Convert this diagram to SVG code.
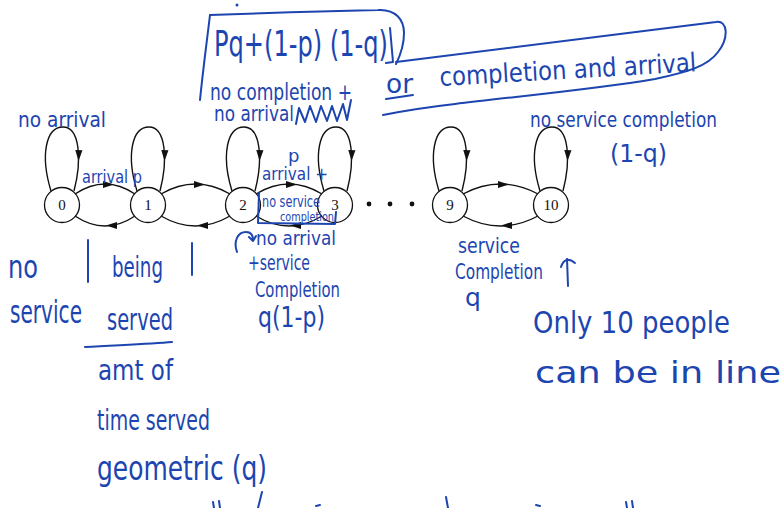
<svg xmlns="http://www.w3.org/2000/svg" width="783" height="508" viewBox="0 0 783 508">
<defs>
<style>
.nd{fill:#fff;stroke:#111;stroke-width:1.3}
.nl{font-family:"Liberation Serif",serif;font-size:15px;fill:#111;text-anchor:middle}
.ed{fill:none;stroke:#111;stroke-width:1.4}
.hw{font-family:"DejaVu Sans","Liberation Sans",sans-serif;fill:#1c45b0}
.ink{fill:none;stroke:#1c45b0;stroke-width:2;stroke-linecap:round;stroke-linejoin:round}
</style>
<path id="ah" d="M0,0 L-11,-3.6 L-11,3.6 Z" fill="#111"/>
</defs>
<rect width="783" height="508" fill="#fff"/>

<!-- transitions of the birth-death chain -->
<g id="connectors">
  <!-- self loops -->
  <path class="ed" d="M51,191 C40,155 46,127 63,127 C80,127 82,160 74,191"/>
  <use href="#ah" transform="translate(78.5,161) rotate(92)"/>
  <path class="ed" d="M137,191 C126,155 132,127 149,127 C166,127 168,160 160,191"/>
  <use href="#ah" transform="translate(164.5,161) rotate(92)"/>
  <path class="ed" d="M232,191 C221,155 227,127 244,127 C261,127 263,160 255,191"/>
  <use href="#ah" transform="translate(259.5,161) rotate(92)"/>
  <path class="ed" d="M324,191 C313,155 319,127 336,127 C353,127 355,160 347,191"/>
  <use href="#ah" transform="translate(351.5,161) rotate(92)"/>
  <path class="ed" d="M439,191 C428,155 434,127 451,127 C468,127 470,160 462,191"/>
  <use href="#ah" transform="translate(466.5,161) rotate(92)"/>
  <path class="ed" d="M540,191 C529,155 535,127 552,127 C569,127 571,160 563,191"/>
  <use href="#ah" transform="translate(567.5,161) rotate(92)"/>
  <!-- 0 <-> 1 -->
  <path class="ed" d="M75,194 Q105,174 135,194"/>
  <use href="#ah" transform="translate(114,184.5)"/>
  <path class="ed" d="M135,216 Q105,236 75,216"/>
  <use href="#ah" transform="translate(106,225.5) rotate(180)"/>
  <!-- 1 <-> 2 -->
  <path class="ed" d="M161,194 Q195.5,174 230,194"/>
  <use href="#ah" transform="translate(205,184.5)"/>
  <path class="ed" d="M230,216 Q195.5,236 161,216"/>
  <use href="#ah" transform="translate(197,225.5) rotate(180)"/>
  <!-- 2 <-> 3 -->
  <path class="ed" d="M256,194 Q289,174 322,194"/>
  <use href="#ah" transform="translate(297,184.5)"/>
  <path class="ed" d="M322,216 Q289,236 256,216"/>
  <use href="#ah" transform="translate(290,225.5) rotate(180)"/>
  <!-- 9 <-> 10 -->
  <path class="ed" d="M463,194 Q500.5,174 538,194"/>
  <use href="#ah" transform="translate(509,184.5)"/>
  <path class="ed" d="M538,216 Q500.5,236 463,216"/>
  <use href="#ah" transform="translate(501,225.5) rotate(180)"/>
</g>

<!-- states -->
<g id="n0"><circle class="nd" cx="62" cy="205" r="17.5"/><text class="nl" x="62" y="210">0</text></g>
<g id="n1"><circle class="nd" cx="148" cy="205" r="17.5"/><text class="nl" x="148" y="210">1</text></g>
<g id="n2"><circle class="nd" cx="243" cy="205" r="17.5"/><text class="nl" x="243" y="210">2</text></g>
<g id="n3"><circle class="nd" cx="335" cy="205" r="17.5"/><text class="nl" x="335" y="210">3</text></g>
<g id="ellipsis" fill="#111">
  <circle cx="369" cy="204" r="2.4"/><circle cx="390" cy="204" r="2.4"/><circle cx="412" cy="204" r="2.4"/>
</g>
<g id="n9"><circle class="nd" cx="450" cy="205" r="17.5"/><text class="nl" x="450" y="210">9</text></g>
<g id="n10"><circle class="nd" cx="551" cy="205" r="17.5"/><text class="nl" x="551" y="210">10</text></g>

<!-- handwritten notes -->
<g id="notes">
  <circle cx="237" cy="5" r="1.5" fill="#1c45b0"/>
  <!-- bracket round the self-loop probability -->
  <path class="ink" d="M210,15 C260,13 330,11 378,10 C396,9 404,20 404,33 C404,45 400,56 396,64"/>
  <path class="ink" d="M210,15 C207,40 203,70 200,100"/>
  <path class="ink" d="M390,28 L393,62 L386,63"/>
  <text class="hw" x="214" y="56" font-size="36" textLength="174" lengthAdjust="spacingAndGlyphs">Pq+(1-p) (1-q)</text>
  <text class="hw" x="210" y="100" font-size="23" textLength="142" lengthAdjust="spacingAndGlyphs">no completion +</text>
  <text class="hw" x="214" y="121" font-size="22" textLength="80" lengthAdjust="spacingAndGlyphs">no arrival</text>
  <path class="ink" stroke-width="1.6" d="M296,124 L299,108 L305,122 L310,106 L316,122 L321,106 L327,121 L332,106 L337,121 L343,104 L347,120 L351,100"/>
  <!-- second alternative -->
  <path class="ink" d="M396,62 C480,52 600,36 716,22 C728,20 729,38 718,52 C708,66 688,72 655,79 C590,90 510,97 455,104 C420,108 398,112 383,115"/>
  <text class="hw" x="386" y="93" font-size="26" textLength="27" lengthAdjust="spacingAndGlyphs">or</text>
  <path class="ink" d="M386,99 L413,95"/>
  <text class="hw" x="440" y="86" font-size="26" textLength="257" lengthAdjust="spacingAndGlyphs" transform="rotate(-3.3 440 86)">completion and arrival</text>

  <text class="hw" x="18" y="127" font-size="22" textLength="88" lengthAdjust="spacingAndGlyphs">no arrival</text>
  <text class="hw" x="82" y="183" font-size="18" textLength="60" lengthAdjust="spacingAndGlyphs">arrival p</text>

  <text class="hw" x="288" y="162" font-size="18">p</text>
  <text class="hw" x="262" y="180" font-size="18" textLength="66" lengthAdjust="spacingAndGlyphs">arrival +</text>
  <text class="hw" x="262" y="207" font-size="15" textLength="58" lengthAdjust="spacingAndGlyphs">no service</text>
  <text class="hw" x="280" y="221" font-size="12" textLength="54" lengthAdjust="spacingAndGlyphs">completion</text>
  <path class="ink" stroke-width="1.6" d="M259,193 L258,223 L335,224 L336,212"/>

  <path class="ink" d="M237,252 C233,241 238,232 246,232 C251,232 253,235 253,240 M249,237 L253,241 L256,236"/>
  <text class="hw" x="256" y="245" font-size="20" textLength="80" lengthAdjust="spacingAndGlyphs">no arrival</text>
  <text class="hw" x="248" y="270" font-size="21" textLength="62" lengthAdjust="spacingAndGlyphs">+service</text>
  <text class="hw" x="255" y="297" font-size="21" textLength="85" lengthAdjust="spacingAndGlyphs">Completion</text>
  <text class="hw" x="258" y="327" font-size="29" textLength="67" lengthAdjust="spacingAndGlyphs">q(1-p)</text>

  <text class="hw" x="8" y="278" font-size="32" textLength="30" lengthAdjust="spacingAndGlyphs">no</text>
  <text class="hw" x="10" y="323" font-size="32" textLength="72" lengthAdjust="spacingAndGlyphs">service</text>
  <path class="ink" d="M88,240 L88,282 M192,243 L192,275"/>
  <text class="hw" x="112" y="277" font-size="28" textLength="51" lengthAdjust="spacingAndGlyphs">being</text>
  <text class="hw" x="107" y="330" font-size="31" textLength="66" lengthAdjust="spacingAndGlyphs">served</text>
  <path class="ink" d="M85,347 C120,345 150,344 172,342"/>
  <text class="hw" x="98" y="380" font-size="29" textLength="75" lengthAdjust="spacingAndGlyphs">amt of</text>
  <text class="hw" x="97" y="430" font-size="29" textLength="113" lengthAdjust="spacingAndGlyphs">time served</text>
  <text class="hw" x="97" y="480" font-size="34" textLength="170" lengthAdjust="spacingAndGlyphs">geometric (q)</text>

  <text class="hw" x="530" y="127" font-size="22" textLength="187" lengthAdjust="spacingAndGlyphs">no service completion</text>
  <text class="hw" x="610" y="162" font-size="25" textLength="57" lengthAdjust="spacingAndGlyphs">(1-q)</text>
  <text class="hw" x="458" y="253" font-size="21" textLength="62" lengthAdjust="spacingAndGlyphs">service</text>
  <text class="hw" x="455" y="279" font-size="21" textLength="88" lengthAdjust="spacingAndGlyphs">Completion</text>
  <text class="hw" x="465" y="306" font-size="25">q</text>
  <path class="ink" d="M568,286 L567,259 M561,267 Q565,255 575,263"/>
  <text class="hw" x="533" y="333" font-size="30" textLength="197" lengthAdjust="spacingAndGlyphs">Only 10 people</text>
  <text class="hw" x="535" y="383" font-size="30" textLength="246" lengthAdjust="spacingAndGlyphs">can be in line</text>

  <!-- strokes cut off at the lower edge -->
  <path class="ink" stroke-width="1.6" d="M262,492 L258,508 M213,502 L214,508 M219,501 L220,508 M316,506 L320,505 M446,497 L448,508 M536,505 L540,506 M626,502 L627,508 M632,501 L633,508"/>
</g>
</svg>
